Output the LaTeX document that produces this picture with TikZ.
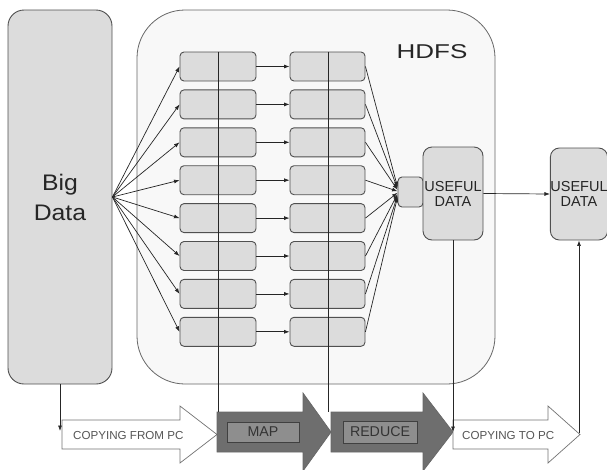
\documentclass[tikz,border=0pt]{standalone}
\usepackage{fontspec}
\setmainfont{Liberation Sans}
\newfontfamily\widefont[FakeStretch=1.3]{Liberation Sans}
\newfontfamily\semiwidefont[FakeStretch=1.1]{Liberation Sans}
\usetikzlibrary{arrows.meta,calc}
\definecolor{boxfill}{HTML}{DCDCDC}
\definecolor{boxline}{HTML}{505050}
\definecolor{hdfsfill}{HTML}{F8F8F8}
\definecolor{darkarrow}{HTML}{6E6E6E}
\definecolor{labelfill}{HTML}{8E8E8E}
\definecolor{txtgray}{HTML}{555555}
\tikzset{
  smallbox/.style={draw=boxline, fill=boxfill, line width=0.9pt, rounded corners=4pt, minimum width=76pt, minimum height=29pt, inner sep=0pt},
  bigbox/.style={draw=boxline, fill=boxfill, line width=0.9pt, rounded corners=16pt, inner sep=0pt},
  usebox/.style={draw=boxline, fill=boxfill, line width=0.9pt, rounded corners=9pt, inner sep=0pt, align=center, font=\fontsize{14.5}{15}\selectfont, text=black!85},
  conn/.style={draw=black!85, line width=0.7pt, -{Latex[length=5.5pt,width=4pt]}},
  plainline/.style={draw=black!85, line width=0.7pt},
  whitearrow/.style={draw=black!55, fill=white, line width=0.7pt},
  darkblock/.style={draw=black!60, fill=darkarrow, line width=0.7pt},
  labelbox/.style={draw=black!75, fill=labelfill, line width=0.9pt, inner sep=0pt, font=\fontsize{14.2}{15}\selectfont, text=black!80},
  smalltxt/.style={font=\fontsize{11.6}{13}\selectfont, text=txtgray, anchor=west, inner sep=0pt}
}
\begin{document}
\begin{tikzpicture}[x=1pt,y=-1pt]
\useasboundingbox (0,0) rectangle (607,469);
% HDFS container
\node[draw=black!60, fill=hdfsfill, line width=0.8pt, rounded corners=48pt, minimum width=358pt, minimum height=374pt, inner sep=0pt] (hdfs) at (316,197) {};
\node[font=\widefont\fontsize{20}{22}\selectfont, text=black!85, inner sep=0pt] (hdfslabel) at (432,52) {HDFS};
% Big Data
\node[bigbox, minimum width=104pt, minimum height=374pt, align=center, font=\semiwidefont\fontsize{22.5}{30}\selectfont, text=black!85] (big) at (60,197) {Big\\Data};
% bottom block arrows
\draw[whitearrow] (62,420) -- (180,420) -- (180,406) -- (217,434.5) -- (180,463) -- (180,449) -- (62,449) -- cycle;
\draw[darkblock] (217,412) -- (303,412) -- (303,393) -- (331,432) -- (303,471) -- (303,452) -- (217,452) -- cycle;
\draw[darkblock] (331,412) -- (423,412) -- (423,393) -- (453,432) -- (423,471) -- (423,452) -- (331,452) -- cycle;
\draw[whitearrow] (453,420) -- (548,420) -- (548,406) -- (580,434.5) -- (548,463) -- (548,449) -- (453,449) -- cycle;
\node[labelbox, minimum width=72pt, minimum height=20pt] (map) at (263,432) {MAP};
\node[labelbox, minimum width=74pt, minimum height=22pt] (reduce) at (380,432) {REDUCE};
\node[smalltxt] (cfrom) at (73,435) {COPYING FROM PC};
\node[smalltxt] (cto) at (462,435) {COPYING TO PC};
% columns of boxes
\foreach \i in {1,...,8}{
  \pgfmathsetmacro{\yy}{66.5+37.9*(\i-1)}
  \node[smallbox] (L\i) at (218,\yy) {};
  \node[smallbox, minimum width=75pt] (R\i) at (327.5,\yy) {};
}
% small box and useful data boxes
\node[draw=boxline, fill=boxfill, line width=0.9pt, rounded corners=4pt, minimum width=25pt, minimum height=30pt, inner sep=0pt] (s) at (410.5,192) {};
\node[usebox, minimum width=60pt, minimum height=93pt] (u1) at (453,193.5) {USEFUL\\DATA};
\node[usebox, minimum width=56pt, minimum height=92pt] (u2) at (579,194) {USEFUL\\DATA};
% coordinates
\coordinate (mapTop) at (218,412);
\coordinate (redTop) at (328,412);
\coordinate (bigEnd) at (60,431);
\coordinate (u1End) at (453,432);
\coordinate (u2Start) at (579,433);
% vertical lines through columns
\draw[plainline] (L1.north) -- (mapTop);
\draw[plainline] (R1.north -| redTop) -- (redTop);
% connectors
\foreach \i in {1,...,8}{
  \draw[conn] (big.east) -- (L\i.west);
  \draw[conn] (L\i.east) -- (R\i.west);
  \draw[conn] (R\i.east) -- ($(s.west)+(0,{(\i-4.5)*1.4})$);
}
\draw[conn] (u1.east) -- (u2.west);
\draw[conn] (big.south) -- (bigEnd);
\draw[conn] (u1.south) -- (u1End);
\draw[conn] (u2Start) -- (u2.south);
\end{tikzpicture}
\end{document}
